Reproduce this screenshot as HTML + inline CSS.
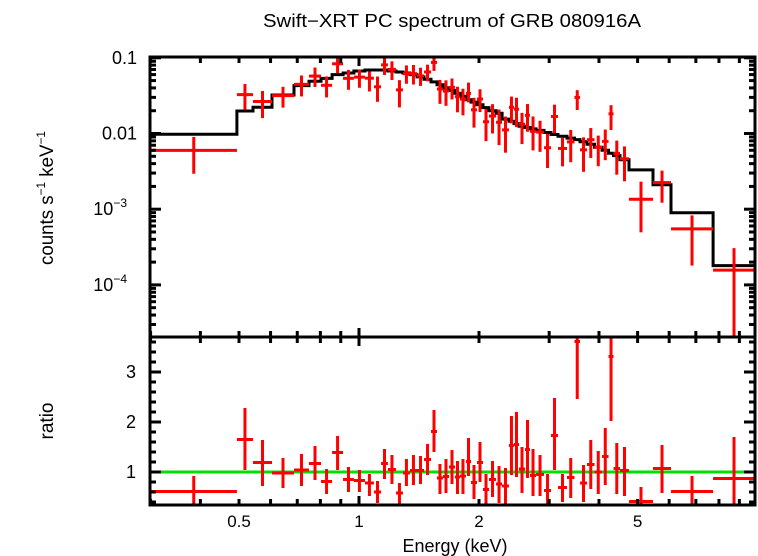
<!DOCTYPE html>
<html><head><meta charset="utf-8"><style>
html,body{margin:0;padding:0;background:#fff;}
svg{display:block;font-family:"Liberation Sans",sans-serif;}
</style></head><body>
<svg id="chart" width="758" height="556" viewBox="0 0 758 556" xmlns="http://www.w3.org/2000/svg">
<text x="452" y="27" font-size="18" text-anchor="middle" textLength="378" lengthAdjust="spacingAndGlyphs">Swift−XRT PC spectrum of GRB 080916A</text>
<text transform="translate(53,198) rotate(-90)" font-size="19" text-anchor="middle" textLength="134" lengthAdjust="spacingAndGlyphs">counts s<tspan font-size="12" dy="-8">−1</tspan><tspan dy="8"> keV</tspan><tspan font-size="12" dy="-8">−1</tspan></text>
<text transform="translate(53,421) rotate(-90)" font-size="19" text-anchor="middle">ratio</text>
<text x="455" y="552" font-size="18" text-anchor="middle">Energy (keV)</text>
<g id="gTop"></g>
<g id="gBot"></g>
<g id="gAxes"></g>
</svg>
<script>
// bin edges (keV)
const binEdges = [0.3,0.494,0.542,0.605,0.687,0.749,0.803,0.856,0.912,0.971,1.035,1.090,1.136,1.182,1.238,1.289,1.342,1.398,1.456,1.516,1.569,1.624,1.682,1.741,1.792,1.855,1.910,1.977,2.047,2.119,2.207,2.285,2.378,2.448,2.520,2.609,2.685,2.781,2.912,3.032,3.157,3.325,3.472,3.585,3.733,3.898,4.071,4.227,4.351,4.517,4.757,5.466,6.064,7.731,9.85];
// model counts s^-1 keV^-1 per bin
const modelValues = [0.0098,0.0198,0.0222,0.0323,0.0429,0.049,0.0535,0.060,0.063,0.067,0.069,0.069,0.069,0.067,0.065,0.063,0.060,0.056,0.052,0.048,0.044,0.040,0.037,0.034,0.031,0.028,0.026,0.024,0.022,0.020,0.0185,0.0155,0.0145,0.0135,0.0125,0.012,0.0115,0.011,0.0103,0.0097,0.0092,0.0087,0.0083,0.0078,0.0072,0.0066,0.006,0.0055,0.0051,0.0045,0.0033,0.0021,0.0009,0.00018];
// data/model ratio with upper and lower error bounds
const ratioValues = [0.61,1.65,1.19,0.98,1.04,1.17,0.81,1.39,0.85,0.83,0.78,0.60,1.17,1.05,0.58,0.98,1.03,1.03,1.25,1.81,0.88,0.91,1.10,0.90,0.92,1.21,0.79,1.19,0.65,0.85,0.76,0.72,1.53,1.55,1.06,1.45,0.93,0.95,0.63,1.73,0.69,0.89,3.61,0.78,1.15,1.00,1.31,3.31,1.07,1.03,0.41,1.07,0.61,0.87];
const ratioHigh = [0.92,2.28,1.64,1.28,1.36,1.52,1.06,1.72,1.10,1.04,0.96,0.82,1.46,1.34,0.78,1.26,1.34,1.32,1.56,2.24,1.16,1.26,1.44,1.22,1.26,1.68,1.14,1.60,0.96,1.22,1.12,1.08,2.12,2.20,1.50,2.04,1.46,1.34,0.96,2.48,0.96,1.28,4.5,1.14,1.64,1.42,1.88,4.3,1.58,1.50,0.70,1.54,0.92,1.70];
const ratioLow = [0.30,1.04,0.72,0.68,0.72,0.84,0.56,1.04,0.60,0.60,0.52,0.38,0.86,0.76,0.34,0.72,0.74,0.76,0.94,1.40,0.56,0.58,0.76,0.56,0.56,0.92,0.46,0.80,0.36,0.50,0.38,0.36,0.94,0.90,0.58,0.88,0.52,0.52,0.34,1.04,0.40,0.48,2.46,0.40,0.66,0.56,0.74,2.02,0.56,0.52,0.15,0.58,0.20,0.0];
const xTickLabels = ["0.5","1","2","5"];
const xTickValues = [0.5,1,2,5];
const ratioTicks = [1,2,3];

const NS="http://www.w3.org/2000/svg";
const L=150,R=755,T=57,M=337,B=505;
const xs = e => 359 + 398.6*Math.log10(e);
const yTop = v => 133.5 - 75.7*Math.log10(v/0.01);
const yBot = r => 472 - 50*(r-1);
function mk(tag, attrs, parent){const el=document.createElementNS(NS,tag);for(const k in attrs)el.setAttribute(k,attrs[k]);parent.appendChild(el);return el;}
const gTop=document.getElementById('gTop'), gBot=document.getElementById('gBot'), gAx=document.getElementById('gAxes');
const clipT=(y)=>Math.max(T,Math.min(M,y)), clipB=(y)=>Math.max(M,Math.min(B,y));

let d='';
for(let i=0;i<modelValues.length;i++){
  const x0=xs(binEdges[i]),x1=xs(binEdges[i+1]),y=yTop(modelValues[i]);
  d+=(i===0?'M':'L')+x0.toFixed(1)+','+y.toFixed(1)+' L'+x1.toFixed(1)+','+y.toFixed(1)+' ';
}
const mp=mk('path',{d:d,fill:'none',stroke:'#000','stroke-width':3},gTop);


const gl=mk('line',{x1:L,x2:R,y1:yBot(1),y2:yBot(1),stroke:'#00e000','stroke-width':3},gBot);



for(let i=0;i<ratioValues.length;i++){
  const e0=binEdges[i],e1=binEdges[i+1],ec=Math.sqrt(e0*e1);
  const x0=xs(e0),x1=xs(e1),xc=xs(ec);
  const m=modelValues[i];
  const yv=yTop(ratioValues[i]*m), yh=clipT(yTop(ratioHigh[i]*m)), yl=ratioLow[i]>0?clipT(yTop(ratioLow[i]*m)):M;
  const g=mk('g',{stroke:'#f00','stroke-width':3},gTop);
  
  
  if(yv>T&&yv<M) mk('line',{x1:x0,x2:x1,y1:yv,y2:yv},g);
  mk('line',{x1:xc,x2:xc,y1:yh,y2:yl},g);
  const g2=mk('g',{stroke:'#f00','stroke-width':3},gBot);
  
  
  const rv=yBot(ratioValues[i]);
  if(rv>M&&rv<B) mk('line',{x1:x0,x2:x1,y1:rv,y2:rv},g2);
  mk('line',{x1:xc,x2:xc,y1:clipB(yBot(ratioHigh[i])),y2:clipB(yBot(ratioLow[i]))},g2);
}

mk('rect',{x:L,y:T,width:R-L,height:M-T,fill:'none',stroke:'#000','stroke-width':3},gAx);
mk('rect',{x:L,y:M,width:R-L,height:B-M,fill:'none',stroke:'#000','stroke-width':3},gAx);
function tick(x1,y1,x2,y2){mk('line',{x1:x1,y1:y1,x2:x2,y2:y2,stroke:'#000','stroke-width':3},gAx);}
for(let dec=0.1;dec<=10;dec*=10){
  for(let k=1;k<10;k++){
    const e=k*dec; if(e<0.3||e>9.85) continue;
    const x=xs(e); const major=(Math.abs(e-1)<1e-9);
    const len=major?9:6;
    [T,M,B].forEach(y=>{ if(y!==B) tick(x,y,x,y+len); if(y!==T) tick(x,y,x,y-len); });
  }
}
xTickLabels.forEach((lab,i)=>{
  const t=mk('text',{x:xs(xTickValues[i]),y:527,'font-size':17,'text-anchor':'middle'},gAx);
  t.textContent=lab;
  
  
});
for(let p=-5;p<=-1;p++){
  for(let k=1;k<10;k++){
    const v=k*Math.pow(10,p); const y=yTop(v);
    if(y<T-0.5||y>M) continue;
    const len=k===1?11:6;
    tick(L,y,L+len,y); tick(R,y,R-len,y);
  }
}
const topLabs=[[0.1,'0.1'],[0.01,'0.01'],[1e-3,'10','−3'],[1e-4,'10','−4']];
topLabs.forEach(a=>{
  const t=mk('text',{x:a[2]?127:137,y:yTop(a[0])+6,'font-size':18,'text-anchor':'end'},gAx);
  t.textContent=a[1];
  
  
  if(a[2]){const s=mk('tspan',{'font-size':12,dy:-8},t);s.textContent=a[2];}
});
for(let r=0.4;r<=3.6+1e-9;r+=0.2){
  const y=yBot(r); const major=Math.abs(r-Math.round(r))<1e-6;
  const len=major?11:6;
  tick(L,y,L+len,y); tick(R,y,R-len,y);
}
ratioTicks.forEach(r=>{
  const t=mk('text',{x:136,y:yBot(r)+6,'font-size':18,'text-anchor':'end'},gAx);
  t.textContent=String(r);
  
  
});
</script>
</body></html>
